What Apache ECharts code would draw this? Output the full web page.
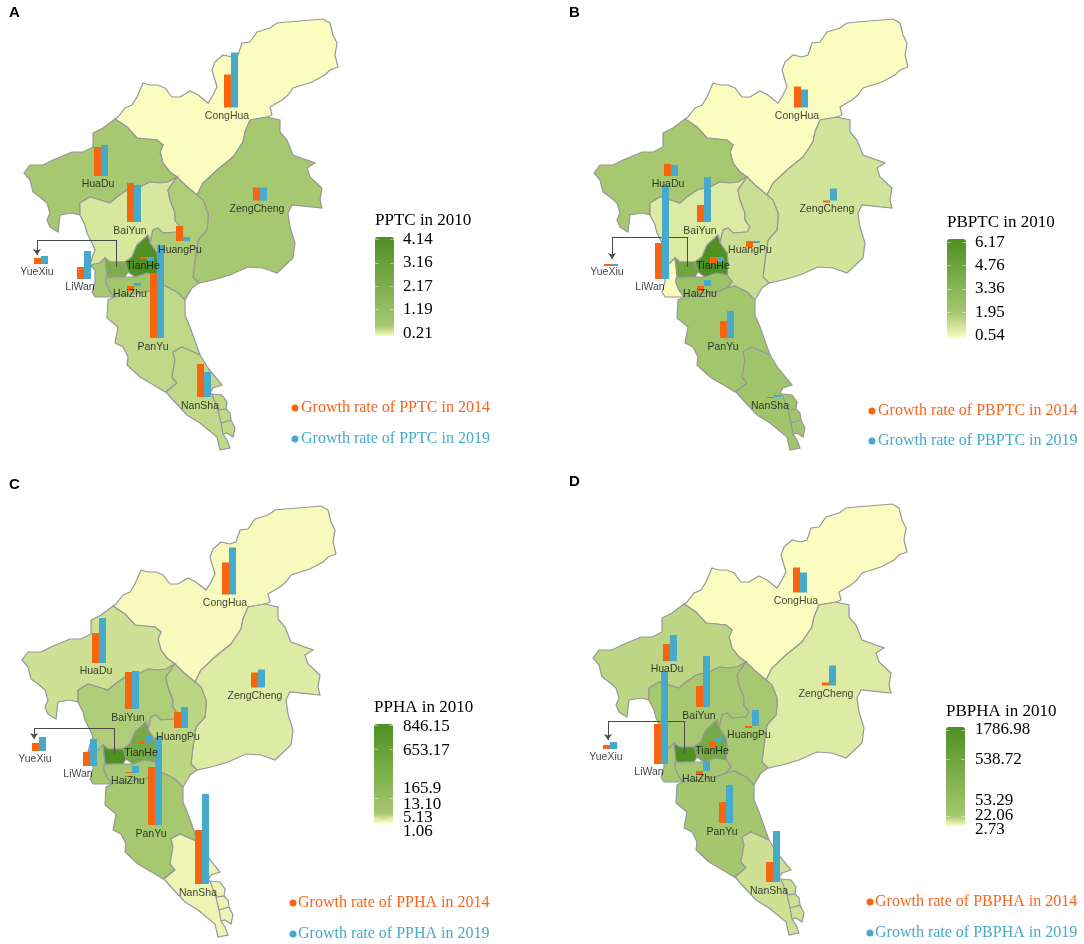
<!DOCTYPE html>
<html>
<head>
<meta charset="utf-8">
<title>Growth rates by district</title>
<script src="https://cdn.jsdelivr.net/npm/echarts@6/dist/echarts.min.js"></script>
<style>
html, body { margin: 0; padding: 0; background: #fff; }
#main { width: 1084px; height: 944px; }
</style>
</head>
<body>
<div id="main"></div>
<script>
var districts = ['CongHua', 'HuaDu', 'ZengCheng', 'BaiYun', 'HuangPu', 'TianHe', 'YueXiu', 'LiWan', 'HaiZhu', 'PanYu', 'NanSha'];

// district outlines, in map units (pixels of the top left panel)
var congHuaRing = [[118,117],[125,108],[132,105],[137,97],[143,83],[150,85],[158,85],[165,88],[172,97],[180,97],[190,91],[198,95],[208,103],[213,95],[217,87],[212,70],[215,62],[223,55],[232,57],[238,55],[242,43],[250,42],[257,32],[270,28],[277,23],[287,22],[300,21],[323,19],[330,23],[333,35],[337,43],[335,55],[338,67],[330,70],[325,75],[312,82],[293,88],[288,95],[282,100],[270,107],[272,115],[267,117],[250,120],[245,132],[243,142],[233,157],[217,170],[203,183],[197,195],[185,185],[177,177],[170,172],[163,163],[160,152],[163,145],[157,140],[147,139],[137,138],[127,127],[115,119]];
var huaDuRing = [[115,119],[127,127],[137,138],[147,139],[157,140],[163,145],[160,152],[163,163],[170,172],[177,177],[168,182],[160,183],[150,182],[140,187],[127,190],[117,197],[110,203],[100,200],[90,197],[80,203],[80,215],[72,213],[60,215],[58,232],[50,227],[47,220],[50,213],[47,203],[40,197],[33,192],[30,180],[24,173],[30,165],[43,165],[53,160],[72,152],[83,152],[93,147],[93,133],[103,128]];
var zengChengRing = [[250,120],[267,117],[280,120],[280,132],[287,140],[293,155],[315,163],[307,168],[310,177],[322,188],[320,200],[322,208],[292,205],[288,213],[290,227],[295,243],[293,258],[277,273],[263,268],[248,267],[230,275],[213,280],[199,283],[193,277],[195,260],[198,240],[207,230],[208,220],[208,213],[203,200],[197,195],[203,183],[217,170],[233,157],[243,142],[245,132]];
var baiYunRing = [[177,177],[168,182],[160,183],[150,182],[140,187],[127,190],[117,197],[110,203],[100,200],[90,197],[80,203],[80,215],[85,225],[87,233],[92,243],[95,250],[92,258],[90,265],[100,263],[105,258],[110,262],[125,262],[132,257],[137,245],[148,235],[150,243],[153,230],[158,228],[163,233],[177,232],[180,227],[175,220],[175,213],[170,200],[168,190]];
var huangPuRing = [[177,177],[185,185],[197,195],[203,200],[208,213],[208,220],[207,230],[198,240],[195,260],[193,277],[199,283],[192,288],[185,300],[177,292],[165,286],[157,288],[162,282],[157,275],[158,263],[157,253],[150,243],[153,230],[158,228],[163,233],[177,232],[180,227],[175,220],[175,213],[170,200],[168,190]];
var tianHeRing = [[148,235],[150,243],[157,253],[158,263],[157,275],[147,273],[135,277],[128,272],[125,262],[132,257],[137,245]];
var yueXiuRing = [[105,258],[110,262],[125,262],[128,272],[125,277],[115,277],[107,277],[106,268]];
var liWanRing = [[100,263],[105,258],[106,268],[107,277],[106,283],[109,290],[114,297],[107,297],[95,297],[92,292],[95,282],[95,270],[90,265]];
var haiZhuRing = [[106,278],[115,277],[125,277],[135,277],[147,273],[157,275],[162,282],[157,288],[147,292],[133,294],[114,297],[109,290],[106,283]];
var panYuRing = [[114,297],[108,300],[107,318],[118,327],[115,343],[123,347],[128,357],[127,365],[140,377],[157,387],[165,392],[177,383],[172,377],[175,360],[173,352],[182,347],[200,355],[190,327],[185,315],[185,300],[177,292],[165,286],[157,288],[147,292],[133,294]];
var nanShaRing = [[182,347],[200,355],[208,368],[222,385],[213,388],[210,393],[212,394],[215,402],[218,410],[221,423],[223,434],[227,440],[230,448],[220,450],[217,437],[200,423],[187,415],[173,400],[166,392],[177,383],[172,377],[175,360],[173,352]];
var nanShaIsland1 = [[212,394],[222,395],[227,402],[226,409],[218,410],[215,402]];
var nanShaIsland2 = [[218,410],[226,409],[230,413],[231,420],[221,423]];
var nanShaIsland3 = [[221,423],[231,420],[235,428],[233,437],[227,433],[223,434]];

var outlines = {
    CongHua: [congHuaRing], HuaDu: [huaDuRing], ZengCheng: [zengChengRing], BaiYun: [baiYunRing],
    HuangPu: [huangPuRing], TianHe: [tianHeRing], YueXiu: [yueXiuRing], LiWan: [liWanRing],
    HaiZhu: [haiZhuRing], PanYu: [panYuRing],
    NanSha: [nanShaRing, nanShaIsland1, nanShaIsland2, nanShaIsland3]
};

// where each pair of bars stands, and where the name sits
var barX = [231, 101, 260, 134, 183, 147, 41, 92, 134, 157, 204];
var barY = [107.5, 176, 200.5, 222, 241, 257, 264, 279, 286, 338, 397];
var barXPanelA = [231, 101, 260, 134, 183, 147, 41, 84, 134, 157, 204];
var nameX = [227, 98, 257, 130, 180, 143, 37, 80, 130, 153, 200];
var nameY = [116, 184, 209, 231, 250, 266, 272, 287, 294, 347, 406];

// 2010 level of each district, read as a position on the panel's colour bar (0 bottom, 1 top)
var pptc2010 = [0, 0.1, 0.1, 0.042, 0.09, 1, 0.52, 0.1, 0.15, 0.07, 0.07];
var pbptc2010 = [0, 0.25, 0.12, 0.09, 0.14, 1, 0.72, 0.01, 0.34, 0.28, 0.3];
var ppha2010 = [0.005, 0.055, 0.035, 0.09, 0.075, 0.59, 1, 0.1, 0.1, 0.1, 0.015];
var pbpha2010 = [0, 0.075, 0.035, 0.1, 0.1, 0.59, 1, 0.1, 0.1, 0.13, 0.055];

// growth rates, bar lengths
var pptc2014 = [33, 29, 13, 39, 15, -2, 6, 12, -5, 65, 33];
var pptc2019 = [55, 31, 13, 37, 4, -4, 8, 28, 3, 93, 25];
var pbptc2014 = [21, 12, -2, 17, -6, -7, -2, 36, -5, 17, -1];
var pbptc2019 = [18, 11, 12, 45, -2, -5, -2, 94, 6, 27, 2];
var ppha2014 = [32, 30, 15, 37, 16, 2, 8, 14, 1, 58, 54];
var ppha2019 = [47, 45, 18, 38, 21, 8, 14, 27, 7, 88, 90];
var pbpha2014 = [25, 17, 3, 21, -2, -5, 4, 40, -4, 21, 20];
var pbpha2019 = [20, 26, 20, 51, 16, 5, 7, 93, 10, 38, 51];

var pptcTicks = ['4.14', '3.16', '2.17', '1.19', '0.21'];
var pbptcTicks = ['6.17', '4.76', '3.36', '1.95', '0.54'];
var pphaTicks = ['846.15', '653.17', '165.9', '13.10', '5.13', '1.06'];
var pbphaTicks = ['1786.98', '538.72', '53.29', '22.06', '2.73'];

// arrow from TianHe side out to the YueXiu bars
var arrowA = [[116,267],[116,240],[37,240],[37,255]];
var arrowB = [[117,267],[117,237],[42,237],[42,259]];
var arrowC = [[116,266],[116,241],[36,241],[36,252]];
var arrowD = [[115,268],[115,236],[39,236],[39,255]];

var panels = [
    { letter: 'A', key: 'PPTC', dx: 0, dy: 0, letterX: 9, letterY: 13, level: pptc2010, v14: pptc2014, v19: pptc2019, xs: barXPanelA, arrow: arrowA, ticks: pptcTicks,
      knee: 2, legendX: 375, barTop: 237, titleY: 221, labelX: 403, labelY: [240, 263, 287, 310, 334], markY: [239, 263, 286, 309],
      dotX: 295, textX: 301, rowY: [408, 439] },
    { letter: 'B', key: 'PBPTC', dx: 570, dy: 0, letterX: 569, letterY: 13, level: pbptc2010, v14: pbptc2014, v19: pbptc2019, xs: barX, arrow: arrowB, ticks: pbptcTicks,
      knee: 5, legendX: 947, barTop: 239, titleY: 223, labelX: 975, labelY: [243, 266, 289, 313, 336], markY: [242, 265, 289, 312],
      dotX: 872, textX: 878, rowY: [411, 441] },
    { letter: 'C', key: 'PPHA', dx: -2, dy: 487, letterX: 9, letterY: 485, level: ppha2010, v14: ppha2014, v19: ppha2019, xs: barX, arrow: arrowC, ticks: pphaTicks,
      knee: 2, legendX: 374, barTop: 724, titleY: 708, labelX: 403, labelY: [727, 751, 789, 805, 818, 832], markY: [725, 749, 798, 818],
      dotX: 293, textX: 298, rowY: [903, 934] },
    { letter: 'D', key: 'PBPHA', dx: 569, dy: 485, letterX: 569, letterY: 482, level: pbpha2010, v14: pbpha2014, v19: pbpha2019, xs: barX, arrow: arrowD, ticks: pbphaTicks,
      knee: 2, legendX: 946, barTop: 727, titleY: 712, labelX: 975, labelY: [730, 760, 801, 816, 830], markY: [730, 759, 816],
      dotX: 870, textX: 875, rowY: [902, 933] }
];

var ORANGE = '#f7650f';
var BLUE = '#47aaca';
var SERIF = '"Liberation Serif", "Times New Roman", serif';
var SANS = '"Liberation Sans", Arial, sans-serif';

// map y grows upward, picture y grows downward
function toMap(p) {
    return [p[0], -p[1]];
}

function buildGeoJson() {
    var features = districts.map(function (name) {
        return {
            type: 'Feature',
            properties: { name: name },
            geometry: {
                type: 'MultiPolygon',
                coordinates: outlines[name].map(function (ring) {
                    return [ring.concat([ring[0]]).map(toMap)];
                })
            }
        };
    });
    return { type: 'FeatureCollection', features: features };
}

// yellow up to the knee, then light green to dark green
function ramp(knee) {
    var stops = [];
    for (var i = 0; i <= 20; i++) {
        if (i <= knee) {
            stops.push(echarts.color.lerp(i / knee, ['#fbfdc0', '#a6c870']));
        } else {
            stops.push(echarts.color.lerp((i - knee) / (20 - knee), ['#a6c870', '#4e9022']));
        }
    }
    return stops;
}

function renderBars(params, api) {
    var x = api.value(0), y = api.value(1);
    var base = api.coord([x, y]);
    var top14 = api.coord([x, y + api.value(2)]);
    var top19 = api.coord([x, y + api.value(3)]);
    var w = 7;
    return {
        type: 'group',
        children: [
            { type: 'rect', shape: { x: base[0] - w, y: Math.min(base[1], top14[1]), width: w, height: Math.abs(base[1] - top14[1]) }, style: { fill: ORANGE } },
            { type: 'rect', shape: { x: base[0], y: Math.min(base[1], top19[1]), width: w, height: Math.abs(base[1] - top19[1]) }, style: { fill: BLUE } }
        ]
    };
}

// polyline series can't carry end symbols, so each leg is its own line and the last has the head
function arrowSegments(path) {
    var segs = [];
    for (var i = 0; i < path.length - 1; i++) {
        segs.push({
            coords: [toMap(path[i]), toMap(path[i + 1])],
            symbol: ['none', i === path.length - 2 ? 'arrow' : 'none'],
            symbolSize: 6
        });
    }
    return segs;
}

function init_chart() {
    echarts.registerMap('guangzhou', buildGeoJson());
    var chart = echarts.init(document.getElementById('main'), null, { renderer: 'canvas' });

    var geo = [], visualMap = [], series = [], graphic = [];

    panels.forEach(function (p, i) {
        geo.push({
            map: 'guangzhou',
            aspectScale: 1,
            roam: false,
            silent: true,
            // one map unit is one pixel, so the panel offset is all that moves
            left: p.dx + 10,
            top: p.dy + 10,
            width: 340,
            height: 445,
            boundingCoords: [[10, -10], [350, -455]],
            label: { show: false },
            itemStyle: { areaColor: '#fff', borderColor: '#979797', borderWidth: 1.2 },
            emphasis: { disabled: true }
        });

        series.push({
            type: 'map',
            geoIndex: i,
            silent: true,
            data: districts.map(function (name, k) {
                return { name: name, value: p.level[k] };
            })
        });

        visualMap.push({
            type: 'continuous',
            seriesIndex: i,
            min: 0,
            max: 1,
            left: p.legendX,
            top: p.barTop,
            padding: 0,
            itemWidth: 19,
            itemHeight: 99,
            calculable: false,
            hoverLink: false,
            text: null,
            inRange: { color: ramp(p.knee) }
        });

        // legend title, tick labels, growth rate rows
        graphic.push({ type: 'text', x: p.letterX, y: p.letterY, style: { text: p.letter, font: 'bold 15px ' + SANS, fill: '#000', textVerticalAlign: 'middle' } });
        graphic.push({ type: 'text', x: p.legendX, y: p.titleY, style: { text: p.key + ' in 2010', font: '17px ' + SERIF, fill: '#000', textVerticalAlign: 'middle' } });
        p.ticks.forEach(function (t, k) {
            graphic.push({ type: 'text', x: p.labelX, y: p.labelY[k], style: { text: t, font: '17px ' + SERIF, fill: '#000', textVerticalAlign: 'middle' } });
        });
        p.markY.forEach(function (y) {
            graphic.push({ type: 'rect', z: 10, shape: { x: p.legendX, y: y, width: 4, height: 1 }, style: { fill: 'rgba(255,255,255,0.45)' } });
            graphic.push({ type: 'rect', z: 10, shape: { x: p.legendX + 15, y: y, width: 4, height: 1 }, style: { fill: 'rgba(255,255,255,0.45)' } });
        });
        [[ORANGE, '#f4651f', '2014'], [BLUE, '#46a9c8', '2019']].forEach(function (row, k) {
            graphic.push({ type: 'circle', shape: { cx: p.dotX, cy: p.rowY[k], r: 3.5 }, style: { fill: row[0] } });
            graphic.push({ type: 'text', x: p.textX, y: p.rowY[k], style: { text: 'Growth rate of ' + p.key + ' in ' + row[2], font: '16px ' + SERIF, fill: row[1], textVerticalAlign: 'middle' } });
        });
    });

    panels.forEach(function (p, i) {
        series.push({
            type: 'lines',
            coordinateSystem: 'geo',
            geoIndex: i,
            silent: true,
            z: 3,
            symbol: ['none', 'none'],
            lineStyle: { color: '#4a4a4a', width: 1, opacity: 1, curveness: 0 },
            data: arrowSegments(p.arrow)
        });
        series.push({
            type: 'custom',
            coordinateSystem: 'geo',
            geoIndex: i,
            silent: true,
            z: 4,
            renderItem: renderBars,
            dimensions: ['x', 'y', 'v14', 'v19'],
            data: districts.map(function (name, k) {
                return [p.xs[k], -barY[k], p.v14[k], p.v19[k]];
            })
        });
        series.push({
            type: 'scatter',
            coordinateSystem: 'geo',
            geoIndex: i,
            silent: true,
            z: 5,
            symbolSize: 0,
            label: {
                show: true,
                position: 'inside',
                formatter: '{b}',
                color: '#111',
                fontFamily: SANS,
                fontSize: 10.5
            },
            data: districts.map(function (name, k) {
                return { name: name, value: [nameX[k], -nameY[k]] };
            })
        });
    });

    chart.setOption({
        animation: false,
        backgroundColor: '#fff',
        tooltip: { show: false },
        geo: geo,
        visualMap: visualMap,
        series: series,
        graphic: graphic
    });
}

init_chart();
</script>
</body>
</html>
